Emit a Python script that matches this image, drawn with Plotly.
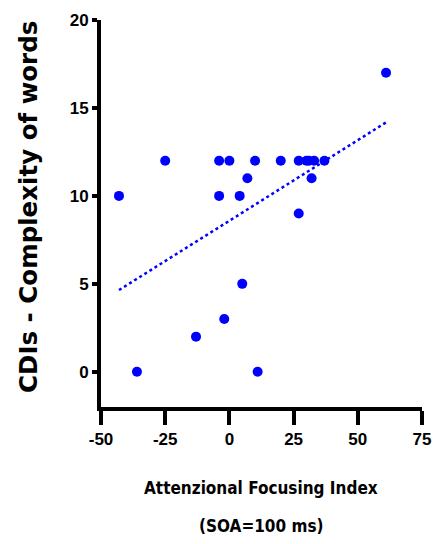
import numpy as np
import plotly.graph_objects as go

# Data
afi = [61, -25, -4, 0, 10, 20, 27, 30, 31, 33, 37, 7, 32, -43, -4, 4, 27, 5, -2, -13, -36, 11]
cdi = [17, 12, 12, 12, 12, 12, 12, 12, 12, 12, 12, 11, 11, 10, 10, 10, 9, 5, 3, 2, 0, 0]
x_ticks = [-50, -25, 0, 25, 50, 75]
y_ticks = [0, 5, 10, 15, 20]
x_title = ["Attenzional Focusing Index", "(SOA=100 ms)"]
y_title = "CDIs - Complexity of words"

slope, intercept = np.polyfit(afi, cdi, 1)
fx = np.array([min(afi), max(afi)])
fy = slope * fx + intercept

BLUE = "#0000FF"
NARROW = "DejaVu Sans Condensed, Liberation Sans Narrow, Arial Narrow, Liberation Sans, sans-serif"
SANS = "Liberation Sans, Arial, sans-serif"

fig = go.Figure()
fig.add_trace(go.Scatter(x=fx, y=fy, mode="lines",
                         line=dict(color=BLUE, width=2.5, dash="dot"),
                         hoverinfo="skip", showlegend=False))
fig.add_trace(go.Scatter(x=afi, y=cdi, mode="markers",
                         marker=dict(color=BLUE, size=10, symbol="circle", line=dict(width=0)),
                         showlegend=False))

fig.update_layout(
    width=444, height=544,
    margin=dict(l=101, r=22, t=20, b=137),
    plot_bgcolor="white", paper_bgcolor="white",
    font=dict(family=SANS, color="black"),
    xaxis=dict(range=[-50, 75], tickvals=x_ticks, ticktext=[str(v) for v in x_ticks],
               showgrid=False, zeroline=False, showline=True, linecolor="black", linewidth=4,
               ticks="outside", ticklen=14, tickwidth=4, tickcolor="black",
               tickfont=dict(size=17, family=SANS, weight="bold")),
    yaxis=dict(range=[-2, 20], tickvals=y_ticks, ticktext=[str(v) for v in y_ticks],
               showgrid=False, zeroline=False, showline=True, linecolor="black", linewidth=4,
               ticks="outside", ticklen=5, tickwidth=4, tickcolor="black",
               tickfont=dict(size=17, family=SANS, weight="bold")),
    annotations=[
        dict(text=y_title, textangle=-90, xref="paper", yref="paper", x=0, y=0.517,
             xanchor="center", yanchor="middle", xshift=-72, showarrow=False,
             font=dict(size=24.5, family="DejaVu Sans, sans-serif", weight="bold")),
        dict(text=x_title[0], xref="paper", yref="paper", x=0.498, y=-0.209,
             xanchor="center", yanchor="middle", showarrow=False,
             font=dict(size=17, family=NARROW, weight="bold")),
        dict(text=x_title[1], xref="paper", yref="paper", x=0.498, y=-0.307,
             xanchor="center", yanchor="middle", showarrow=False,
             font=dict(size=17, family=NARROW, weight="bold")),
    ],
)

fig.write_html("out.html")
